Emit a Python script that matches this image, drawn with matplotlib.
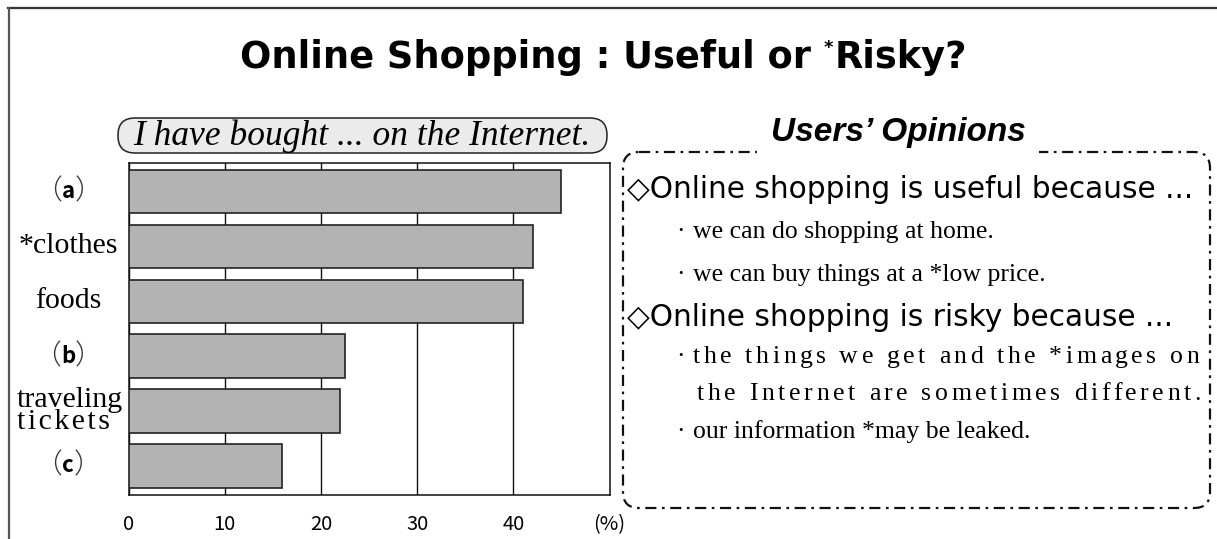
import matplotlib
matplotlib.use("Agg")
import matplotlib.pyplot as plt
from matplotlib.patches import FancyBboxPatch
from matplotlib.lines import Line2D
import matplotlib.transforms as mtransforms

# ---- data ----
categories = ["(a)", "*clothes", "foods", "(b)", "traveling\ntickets", "(c)"]
values = [45, 42, 41, 22.5, 22, 16]
xticks = [0, 10, 20, 30, 40]
xtick_labels = ["0", "10", "20", "30", "40"]
unit_label = "(%)"
title = "Online Shopping : Useful or "
title_star = "*"
title_end = "Risky?"
chart_caption = "I have bought ... on the Internet."
box_title = "Users\u2019 Opinions"
useful_head = "\u25c7Online shopping is useful because ..."
useful_items = ["we can do shopping at home.",
                "we can buy things at a *low price."]
risky_head = "\u25c7Online shopping is risky because ..."
risky_lines = ["the things we get and the *images on",
               "the Internet are sometimes different."]
risky_items2 = ["our information *may be leaked."]
bullet = "\u00b7"

W, H = 1217, 539
fig = plt.figure(figsize=(W / 100, H / 100), dpi=100)
fig.patch.set_facecolor("white")
renderer = fig.canvas.get_renderer()

# overlay in pixel coordinates
ov = fig.add_axes([0, 0, 1, 1])
ov.set_xlim(0, W)
ov.set_ylim(H, 0)
ov.axis("off")
ov.set_zorder(0)

# frame lines (top & left)
ov.add_line(Line2D([8, W], [8, 8], color="#333333", lw=1.6))
ov.add_line(Line2D([8.5, 8.5], [8, H], color="#555555", lw=1.6))


def text_width(s, font):
    t = ov.text(0, 0, s, **font)
    w_ = t.get_window_extent(renderer).width
    t.remove()
    return w_


def spaced_text(s, x0, x1, y, font):
    """Distributed alignment: spread characters of s evenly over x0..x1."""
    n = len(s)
    natural = text_width(s, font)
    extra = (x1 - x0 - natural) / (n - 1)
    for k, ch in enumerate(s):
        if ch == " ":
            continue
        x = x0 + text_width(s[:k], font) + k * extra if k else x0
        ov.text(x, y, ch, ha="left", va="center", **font)


# ---- chart ----
ax_l, ax_r, ax_t, ax_b = 128.5, 609.5, 163, 495
ax = fig.add_axes([ax_l / W, (H - ax_b) / H, (ax_r - ax_l) / W, (ax_b - ax_t) / H])
ax.set_zorder(2)
ypos = list(range(len(categories)))
ax.barh(ypos, values, height=0.79, color="#b3b3b3", edgecolor="#222222",
        linewidth=1.2, zorder=3)
ax.set_xlim(0, 50)
ax.set_ylim(len(categories) - 0.47, -0.52)
ax.set_xticks(xticks)
ax.xaxis.grid(True, color="#111111", lw=1.0)
ax.set_axisbelow(True)
ax.tick_params(length=0)
ax.set_yticks(ypos)
ax.set_yticklabels([""] * len(categories))
ax.set_xticklabels(xtick_labels, fontfamily="Noto Sans CJK JP", fontsize=14.5)
ax.tick_params(axis="x", pad=14)
for s in ax.spines.values():
    s.set_color("#111111")
    s.set_linewidth(1.1)
pct_tr = mtransforms.offset_copy(
    mtransforms.blended_transform_factory(ax.transData, ax.transAxes),
    fig=fig, y=-14, units="points")
ax.text(50, 0, unit_label, transform=pct_tr, ha="center", va="top",
        fontfamily="Noto Sans CJK JP", fontsize=14.5, clip_on=False)

# y labels
lab_tr = mtransforms.blended_transform_factory(fig.transFigure, ax.transData)
xc = 68 / W
label_font = dict(fontfamily=["Liberation Serif", "DejaVu Serif"], fontsize=21.5)
for i, cat in enumerate(categories):
    if cat.startswith("(") and cat.endswith(")"):
        t1 = ax.text(xc, i, cat[1:-1], transform=lab_tr, ha="center", va="center",
                     fontfamily="Noto Sans CJK JP", fontweight="bold", fontsize=16,
                     clip_on=False)
        ax.annotate("\uff08", xy=(0, 0.5), xycoords=t1, ha="right", va="center",
                    fontfamily="Noto Sans CJK JP", fontweight="light", fontsize=20,
                    color="#333333", annotation_clip=False)
        ax.annotate("\uff09", xy=(1, 0.5), xycoords=t1, ha="left", va="center",
                    fontfamily="Noto Sans CJK JP", fontweight="light", fontsize=20,
                    color="#333333", annotation_clip=False)
    elif "\n" in cat:
        first, second = cat.split("\n")
        second_spaced = "\u200a".join(second)   # letter-spaced second line
        ax.text(17 / W, i, first + "\n" + second_spaced, transform=lab_tr,
                ha="left", va="center", multialignment="left", linespacing=0.78,
                clip_on=False, **label_font)
    else:
        ax.text(xc, i, cat, transform=lab_tr, ha="center", va="center",
                clip_on=False, **label_font)

# ---- title ----
t_main = ov.text(240, 57, title, ha="left", va="center",
                 fontfamily="DejaVu Sans", fontweight="bold", fontsize=26.5)
t_star = ov.annotate(title_star, xy=(1, 0.75), xycoords=t_main, ha="left", va="center",
                     fontfamily="DejaVu Sans", fontweight="bold", fontsize=13)
ov.annotate(title_end, xy=(1, 0.5), xycoords=t_main, xytext=(8, 0),
            textcoords="offset points", ha="left", va="center",
            fontfamily="DejaVu Sans", fontweight="bold", fontsize=26.5)

# caption pill
pill = FancyBboxPatch((118, 118), 489, 35, boxstyle="round,pad=0,rounding_size=17",
                      facecolor="#ebebeb", edgecolor="#222222", lw=1.1)
ov.add_patch(pill)
ov.text(362, 136, chart_caption, ha="center", va="center",
        fontfamily="Liberation Serif", fontstyle="italic", fontsize=25.5)

# ---- opinions box ----
box = FancyBboxPatch((623, 152), 587, 356, boxstyle="round,pad=0,rounding_size=16",
                     facecolor="none", edgecolor="#111111", lw=1.6,
                     linestyle=(0, (5, 2.5, 1.2, 2.5)))
ov.add_patch(box)
ov.text(898, 132, box_title, ha="center", va="center",
        fontfamily="Liberation Sans", fontweight="bold", fontstyle="italic", fontsize=24,
        bbox=dict(facecolor="white", edgecolor="none", pad=10))

head_font = dict(fontfamily="DejaVu Sans", fontsize=21.3)
item_font = dict(fontfamily="Liberation Serif", fontsize=18.5)

bx, tx = 676, 693
ov.text(627, 190, useful_head, ha="left", va="center", **head_font)
ov.text(bx, 232, bullet, ha="left", va="center", **item_font)
ov.text(tx, 232, useful_items[0], ha="left", va="center", **item_font)
ov.text(bx, 275, bullet, ha="left", va="center", **item_font)
ov.text(tx, 275, useful_items[1], ha="left", va="center", **item_font)
ov.text(627, 318, risky_head, ha="left", va="center", **head_font)
ov.text(bx, 357, bullet, ha="left", va="center", **item_font)
spaced_text(risky_lines[0], tx, 1199, 357, item_font)
spaced_text(risky_lines[1], tx + 4, 1201, 394, item_font)
ov.text(bx, 432, bullet, ha="left", va="center", **item_font)
ov.text(tx, 432, risky_items2[0], ha="left", va="center", **item_font)

fig.savefig("out.png", dpi=100)
